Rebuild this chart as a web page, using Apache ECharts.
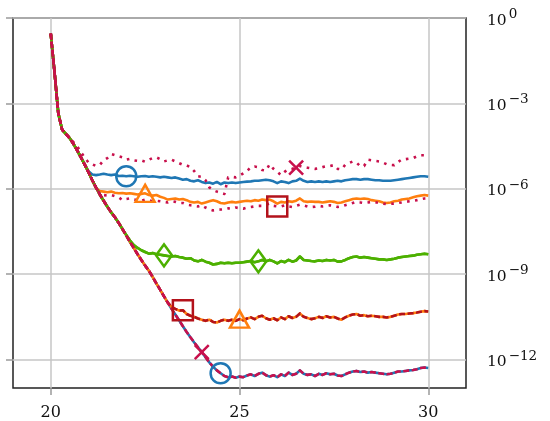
<!DOCTYPE html>
<html>
<head>
<meta charset="utf-8">
<script src="https://cdn.jsdelivr.net/npm/echarts@6/dist/echarts.min.js"></script>
<style>
  html, body { margin: 0; padding: 0; background: #ffffff; }
  #chart { width: 550px; height: 421px; }
</style>
</head>
<body>
<div id="chart"></div>
<script>
// Sample positions (shared by every curve)
const xs = [
  20.0, 20.1, 20.2, 20.3, 20.4, 20.5, 20.6, 20.7, 20.8, 20.9,
  21.0, 21.1, 21.2, 21.3, 21.4, 21.5, 21.6, 21.7, 21.8, 21.9,
  22.0, 22.1, 22.2, 22.3, 22.4, 22.5, 22.6, 22.7, 22.8, 22.9,
  23.0, 23.1, 23.2, 23.3, 23.4, 23.5, 23.6, 23.7, 23.8, 23.9,
  24.0, 24.1, 24.2, 24.3, 24.4, 24.5, 24.6, 24.7, 24.8, 24.9,
  25.0, 25.1, 25.2, 25.3, 25.4, 25.5, 25.6, 25.7, 25.8, 25.9,
  26.0, 26.1, 26.2, 26.3, 26.4, 26.5, 26.6, 26.7, 26.8, 26.9,
  27.0, 27.1, 27.2, 27.3, 27.4, 27.5, 27.6, 27.7, 27.8, 27.9,
  28.0, 28.1, 28.2, 28.3, 28.4, 28.5, 28.6, 28.7, 28.8, 28.9,
  29.0, 29.1, 29.2, 29.3, 29.4, 29.5, 29.6, 29.7, 29.8, 29.9,
  30.0
];

// log10 of the error; common descent shared by all runs (x = 20.0 .. 24.5)
const descent = [
  -0.55, -1.9, -3.35, -3.92, -4.07, -4.22, -4.42, -4.65, -4.9, -5.15,
  -5.42, -5.7, -5.96, -6.2, -6.42, -6.63, -6.83, -7.0, -7.2, -7.42,
  -7.64, -7.87, -8.08, -8.3, -8.5, -8.7, -8.88, -9.1, -9.33, -9.55,
  -9.78, -10.0, -10.22, -10.42, -10.62, -10.83, -11.03, -11.22, -11.4, -11.57,
  -11.74, -11.92, -12.1, -12.25, -12.38, -12.48
];

// Plateau tails (log10), each starting where the run leaves the common descent
const blueTail = [ // from x = 21.0
  -5.38, -5.5, -5.52, -5.5, -5.47, -5.5, -5.52, -5.5, -5.55, -5.54,
  -5.56, -5.54, -5.56, -5.58, -5.56, -5.55, -5.58, -5.56, -5.58, -5.6,
  -5.58, -5.6, -5.62, -5.6, -5.64, -5.68, -5.66, -5.72, -5.74, -5.7,
  -5.76, -5.8, -5.78, -5.82, -5.76, -5.84, -5.78, -5.8, -5.78, -5.8,
  -5.78, -5.76, -5.75, -5.74, -5.72, -5.72, -5.7, -5.68, -5.7, -5.74,
  -5.8, -5.74, -5.76, -5.8, -5.74, -5.72, -5.64, -5.72, -5.76, -5.74,
  -5.76, -5.74, -5.76, -5.74, -5.76, -5.74, -5.72, -5.74, -5.7, -5.68,
  -5.66, -5.66, -5.68, -5.66, -5.66, -5.68, -5.7, -5.7, -5.72, -5.72,
  -5.72, -5.7, -5.68, -5.66, -5.64, -5.62, -5.6, -5.58, -5.56, -5.56,
  -5.58
];
const orangeTail = [ // from x = 21.2
  -5.98, -6.08, -6.1, -6.12, -6.1, -6.14, -6.16, -6.15,
  -6.17, -6.16, -6.18, -6.2, -6.18, -6.16, -6.22, -6.24, -6.22, -6.28,
  -6.32, -6.38, -6.36, -6.34, -6.38, -6.36, -6.4, -6.46, -6.48, -6.46,
  -6.52, -6.48, -6.44, -6.4, -6.44, -6.5, -6.52, -6.48, -6.46, -6.48,
  -6.46, -6.44, -6.42, -6.44, -6.4, -6.42, -6.38, -6.4, -6.38, -6.44,
  -6.52, -6.46, -6.48, -6.44, -6.46, -6.42, -6.34, -6.44, -6.46, -6.45,
  -6.46, -6.46, -6.48, -6.46, -6.44, -6.46, -6.5, -6.48, -6.44, -6.4,
  -6.36, -6.34, -6.36, -6.34, -6.36, -6.4, -6.42, -6.44, -6.48, -6.5,
  -6.48, -6.44, -6.42, -6.38, -6.36, -6.34, -6.3, -6.26, -6.24, -6.22,
  -6.24
];
const greenTail = [ // from x = 22.0
  -7.62, -7.82, -7.98, -8.08, -8.16, -8.22, -8.28, -8.26, -8.3, -8.32,
  -8.34, -8.36, -8.38, -8.36, -8.4, -8.42, -8.46, -8.44, -8.52, -8.55,
  -8.5, -8.56, -8.6, -8.66, -8.64, -8.6, -8.62, -8.6, -8.62, -8.6,
  -8.6, -8.58, -8.56, -8.54, -8.58, -8.55, -8.5, -8.55, -8.5, -8.55,
  -8.62, -8.54, -8.58, -8.5, -8.56, -8.52, -8.38, -8.5, -8.52, -8.54,
  -8.55, -8.52, -8.54, -8.5, -8.52, -8.5, -8.56, -8.55, -8.5, -8.44,
  -8.4, -8.38, -8.42, -8.4, -8.42, -8.44, -8.46, -8.48, -8.48, -8.5,
  -8.48, -8.46, -8.42, -8.4, -8.38, -8.36, -8.35, -8.32, -8.3, -8.28,
  -8.3
];
const midTail = [ // from x = 23.1
  -10.0, -10.15, -10.22, -10.28, -10.27, -10.4, -10.46, -10.5, -10.56,
  -10.6, -10.64, -10.6, -10.68, -10.7, -10.64, -10.6, -10.64, -10.6, -10.64,
  -10.58, -10.62, -10.56, -10.52, -10.58, -10.5, -10.46, -10.55, -10.6, -10.55,
  -10.62, -10.52, -10.58, -10.48, -10.54, -10.5, -10.38, -10.5, -10.54, -10.58,
  -10.55, -10.5, -10.54, -10.48, -10.52, -10.5, -10.56, -10.6, -10.52, -10.46,
  -10.42, -10.4, -10.46, -10.44, -10.48, -10.46, -10.48, -10.5, -10.5, -10.52,
  -10.5, -10.46, -10.42, -10.4, -10.4, -10.38, -10.37, -10.35, -10.32, -10.3,
  -10.31
];
const bottomTail = [ // from x = 24.6
  -12.58, -12.62, -12.6, -12.64,
  -12.6, -12.62, -12.56, -12.52, -12.58, -12.5, -12.46, -12.55, -12.6, -12.55,
  -12.62, -12.52, -12.58, -12.46, -12.54, -12.5, -12.38, -12.5, -12.54, -12.52,
  -12.58, -12.5, -12.54, -12.48, -12.52, -12.5, -12.56, -12.58, -12.52, -12.46,
  -12.42, -12.4, -12.44, -12.42, -12.46, -12.44, -12.46, -12.48, -12.5, -12.52,
  -12.5, -12.46, -12.42, -12.42, -12.4, -12.38, -12.37, -12.34, -12.3, -12.28,
  -12.3
];
const upperDotTail = [ // from x = 20.6
  -4.36, -4.5, -4.72, -4.9,
  -5.08, -5.14, -5.2, -5.16, -5.0, -4.92, -4.78, -4.82, -4.86, -4.9,
  -4.98, -4.95, -5.0, -5.02, -5.0, -5.05, -4.98, -4.92, -4.9, -4.96,
  -5.04, -5.0, -4.98, -5.04, -5.1, -5.16, -5.18, -5.24, -5.38, -5.56,
  -5.58, -5.7, -5.95, -6.05, -6.1, -6.14, -6.18, -5.6, -5.58, -5.6,
  -5.54, -5.46, -5.38, -5.24, -5.22, -5.24, -5.34, -5.36, -5.14, -5.3,
  -5.4, -5.52, -5.4, -5.32, -5.3, -5.26, -5.2, -5.24, -5.26, -5.28,
  -5.3, -5.28, -5.24, -5.21, -5.2, -5.17, -5.3, -5.32, -5.16, -5.1,
  -5.04, -5.08, -5.21, -5.2, -4.98, -5.0, -5.02, -5.04, -5.08, -5.14,
  -5.16, -5.17, -5.06, -4.97, -4.96, -4.94, -4.92, -4.86, -4.82, -4.82,
  -4.8
];
const lowerDotTail = [ // from x = 21.3
  -6.18, -6.22, -6.24, -6.22, -6.26, -6.3, -6.4,
  -6.36, -6.34, -6.38, -6.4, -6.42, -6.38, -6.4, -6.44, -6.42, -6.44,
  -6.46, -6.48, -6.44, -6.46, -6.5, -6.5, -6.56, -6.58, -6.6, -6.62,
  -6.58, -6.66, -6.72, -6.76, -6.74, -6.73, -6.72, -6.69, -6.7, -6.66,
  -6.68, -6.7, -6.66, -6.64, -6.62, -6.6, -6.6, -6.56, -6.52, -6.6,
  -6.62, -6.62, -6.58, -6.62, -6.64, -6.6, -6.56, -6.58, -6.62, -6.64,
  -6.63, -6.6, -6.62, -6.6, -6.58, -6.6, -6.64, -6.62, -6.58, -6.54,
  -6.5, -6.46, -6.48, -6.5, -6.48, -6.46, -6.47, -6.5, -6.52, -6.54,
  -6.53, -6.52, -6.5, -6.48, -6.46, -6.44, -6.42, -6.4, -6.37, -6.34,
  -6.33
];

const xTicks = [20, 25, 30];
const yTicks = [1e-12, 1e-9, 1e-6, 1e-3, 1];

const C = {
  blue: '#1f77b4',
  orange: '#ff7f0e',
  green: '#4cb000',
  red: '#b3121b',
  crimson: '#c8104c'
};

// join the shared descent with a tail that begins at sample index `start`
function curve(start, tail) {
  const logs = descent.slice(0, start).concat(tail);
  return logs.map((e, i) => [xs[i], Math.pow(10, e)]);
}

const runs = {
  blueHigh:  curve(10, blueTail),
  orangeHigh: curve(12, orangeTail),
  green:     curve(20, greenTail),
  redMid:    curve(31, midTail),
  crimsonLow: curve(46, bottomTail),
  blueLow:   curve(46, bottomTail),
  orangeMid: curve(31, midTail),
  redDot:    curve(13, lowerDotTail),
  crimsonDot: curve(6, upperDotTail)
};

function at(data, x) {
  return data.find(p => Math.abs(p[0] - x) < 1e-9);
}

function line(data, color, type, z) {
  return {
    type: 'line', data: data, showSymbol: false, symbol: 'none',
    z: z, silent: true, animation: false,
    lineStyle: { color: color, width: 2.6, type: type, cap: 'butt', join: 'round', opacity: 1 }
  };
}

function marker(data, x, color, symbol, size) {
  return {
    type: 'scatter', data: [at(data, x)], symbol: symbol, symbolSize: size,
    z: 20, silent: true, animation: false,
    itemStyle: { color: 'rgba(0,0,0,0)', borderColor: color, borderWidth: 2.5, opacity: 1 }
  };
}

const cross = 'path://M0,0L10,10M0,10L10,0';
const dashed = [6, 2.5];
const dotted = [2.6, 5.4];

const series = [
  line(runs.blueHigh, C.blue, 'solid', 2),
  line(runs.orangeHigh, C.orange, 'solid', 2),
  line(runs.green, C.green, 'solid', 2),
  line(runs.blueLow, C.blue, 'solid', 2),
  line(runs.orangeMid, C.orange, 'solid', 2),
  line(runs.green, C.green, 'solid', 2),
  line(runs.redMid, C.red, dashed, 3),
  line(runs.crimsonLow, C.crimson, dashed, 3),
  line(runs.redDot, C.crimson, dotted, 4),
  line(runs.crimsonDot, C.crimson, dotted, 4),

  marker(runs.blueHigh, 22.0, C.blue, 'circle', 20),
  marker(runs.orangeHigh, 22.5, C.orange, 'triangle', [19, 17]),
  marker(runs.green, 23.0, C.green, 'diamond', [16, 22]),
  marker(runs.redMid, 23.5, C.red, 'rect', 20),
  marker(runs.crimsonLow, 24.0, C.crimson, cross, 14),
  marker(runs.blueLow, 24.5, C.blue, 'circle', 20),
  marker(runs.orangeMid, 25.0, C.orange, 'triangle', [19, 17]),
  marker(runs.green, 25.5, C.green, 'diamond', [16, 22]),
  marker(runs.redDot, 26.0, C.red, 'rect', 20),
  marker(runs.crimsonDot, 26.5, C.crimson, cross, 14)
];

const serif = 'DejaVu Serif';
const gridLine = { show: true, lineStyle: { color: '#c6c6c6', width: 1.5 } };

const chart = echarts.init(document.getElementById('chart'), null, { renderer: 'canvas' });
chart.setOption({
  animation: false,
  backgroundColor: '#ffffff',
  grid: {
    left: 13, right: 84, top: 18, bottom: 33,
    show: true, borderColor: '#222222', borderWidth: 1.5, backgroundColor: 'rgba(0,0,0,0)'
  },
  xAxis: {
    type: 'value', min: 19, max: 31,
    axisLine: { show: false },
    axisTick: { show: true, customValues: xTicks, length: 7, lineStyle: { color: '#9a9a9a', width: 1.5 } },
    axisLabel: { customValues: xTicks, margin: 17, fontFamily: serif, fontSize: 16, color: '#111111' },
    splitLine: gridLine
  },
  yAxis: [
    {
      type: 'log', logBase: 10, min: 1e-13, max: 1, position: 'right',
      axisLine: { show: false },
      axisTick: { show: false, customValues: yTicks },
      axisLabel: {
        customValues: yTicks, margin: 21,
        formatter: function (v) {
          const e = Math.round(Math.log10(v));
          const sup = e < 0 ? '\u2212' + (-e) : String(e);
          return '{b|10}{s|' + sup + '}';
        },
        rich: {
          b: { fontFamily: serif, fontSize: 15.5, color: '#111111', verticalAlign: 'bottom', lineHeight: 21 },
          s: { fontFamily: serif, fontSize: 13.5, color: '#111111', verticalAlign: 'top', lineHeight: 21, padding: [0, 0, 0, 2] }
        }
      },
      splitLine: gridLine
    },
    {
      type: 'log', logBase: 10, min: 1e-13, max: 1, position: 'left',
      axisLine: { show: false },
      axisTick: { show: true, customValues: yTicks, length: 7, lineStyle: { color: '#9a9a9a', width: 1.5 } },
      axisLabel: { show: false },
      splitLine: { show: false }
    }
  ],
  series: series
});
</script>
</body>
</html>
